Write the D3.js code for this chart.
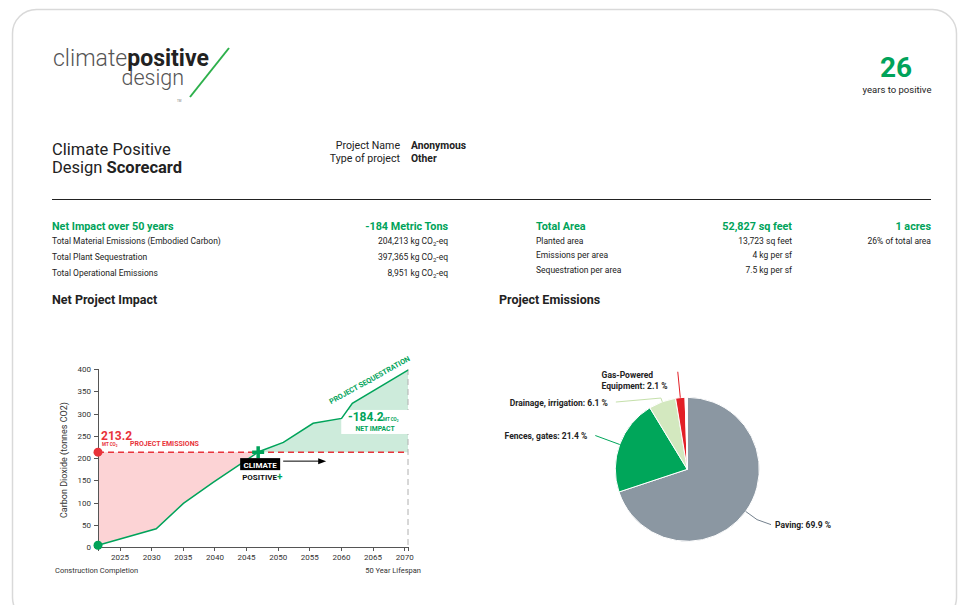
<!DOCTYPE html>
<meta charset="utf-8">
<style>
  body { margin: 0; background: #fff; font-family: Roboto, sans-serif; }
  .axis path, .axis line { fill: none; stroke: #555; shape-rendering: crispEdges; }
  .axis text { font-family: Roboto, sans-serif; font-size: 8px; fill: #333; }
</style>
<div class="card"></div>
<script src="https://cdn.jsdelivr.net/npm/d3@7"></script>
<script>
  var seqYears  = [2021.6, 2030.8, 2035.1, 2039.8, 2047.0, 2050.9, 2055.6, 2060.1, 2061.8, 2070.6];
  var seqTonnes = [4, 41, 98, 145, 214, 235, 278, 289, 323, 397.4];
  var projectEmissions = 213.2;
  var netImpact = -184.2;
  var yTicks = [0, 50, 100, 150, 200, 250, 300, 350, 400];
  var xTicks = [2025, 2030, 2035, 2040, 2045, 2050, 2055, 2060, 2065, 2070];

  var pieNames  = ["Paving", "Fences, gates", "Drainage, irrigation", "Gas-Powered Equipment", ""];
  var pieValues = [69.9, 21.4, 6.1, 2.1, 0.5];
  var pieColors = ["#8b97a2", "#00a65a", "#d3e8bf", "#e31f26", "#ffffff"];

  var leftLabels = ["Total Material Emissions (Embodied Carbon)", "Total Plant Sequestration", "Total Operational Emissions"];
  var leftValues = ["204,213", "397,365", "8,951"];
  var rightLabels = ["Planted area", "Emissions per area", "Sequestration per area"];
  var rightValues = ["13,723 sq feet", "4 kg per sf", "7.5 kg per sf"];

  var green = "#00a35a", red = "#e8333a", dark = "#222";

  var svg = d3.select(".card").append("svg")
      .attr("width", 963).attr("height", 605)
      .style("font-family", "Roboto, sans-serif");

  // card outline
  svg.append("rect").attr("x", 12.5).attr("y", 9.5).attr("width", 944).attr("height", 612)
      .attr("rx", 24).attr("fill", "none").attr("stroke", "#d9d9d9").attr("stroke-width", 1.5);

  // ---- logo ----
  var logo = svg.append("g");
  var l1 = logo.append("text").attr("x", 53).attr("y", 66).attr("font-size", 23);
  l1.append("tspan").attr("font-weight", 300).attr("fill", "#555").text("climate");
  l1.append("tspan").attr("font-weight", 700).attr("fill", "#222").text("positive");
  logo.append("text").attr("x", 184).attr("y", 84.5).attr("text-anchor", "end")
      .attr("font-size", 21.5).attr("font-weight", 300).attr("fill", "#555").text("design");
  logo.append("line").attr("x1", 190).attr("y1", 97).attr("x2", 229).attr("y2", 48)
      .attr("stroke", "#2db04b").attr("stroke-width", 2);
  logo.append("text").attr("x", 177).attr("y", 102).attr("font-size", 3).attr("fill", "#777").text("TM");

  // years to positive
  svg.append("text").attr("x", 896).attr("y", 77).attr("text-anchor", "middle")
      .attr("font-size", 28).attr("font-weight", 700).attr("fill", green).text("26");
  svg.append("text").attr("x", 897).attr("y", 93).attr("text-anchor", "middle")
      .attr("font-size", 9.5).attr("fill", dark).text("years to positive");

  // title block
  svg.append("text").attr("x", 52).attr("y", 155).attr("font-size", 16.5).attr("fill", dark).text("Climate Positive");
  var t2 = svg.append("text").attr("x", 52).attr("y", 173).attr("font-size", 16.5).attr("fill", dark);
  t2.append("tspan").text("Design ");
  t2.append("tspan").attr("font-weight", 700).text("Scorecard");

  svg.append("text").attr("x", 400).attr("y", 148.5).attr("text-anchor", "end").attr("font-size", 10.6).attr("fill", dark).text("Project Name");
  svg.append("text").attr("x", 400).attr("y", 161.5).attr("text-anchor", "end").attr("font-size", 10.6).attr("fill", dark).text("Type of project");
  svg.append("text").attr("x", 411).attr("y", 148.5).attr("font-size", 10.3).attr("font-weight", 700).attr("fill", dark).text("Anonymous");
  svg.append("text").attr("x", 411).attr("y", 161.5).attr("font-size", 10.3).attr("font-weight", 700).attr("fill", dark).text("Other");

  svg.append("line").attr("x1", 52).attr("x2", 931).attr("y1", 199.5).attr("y2", 199.5).attr("stroke", dark);

  // ---- stats ----
  function co2(sel, val) {
    sel.append("tspan").text(val + " kg CO");
    sel.append("tspan").attr("font-size", 6).attr("dy", 2).text("2");
    sel.append("tspan").attr("dy", -2).text("-eq");
  }
  svg.append("text").attr("x", 52).attr("y", 230).attr("font-size", 10.8).attr("font-weight", 700).attr("fill", green).text("Net Impact over 50 years");
  svg.append("text").attr("x", 448).attr("y", 230).attr("text-anchor", "end").attr("font-size", 10.8).attr("font-weight", 700).attr("fill", green)
      .text(Math.round(netImpact) + " Metric Tons");
  leftLabels.forEach(function(lab, i) {
    var yy = 244 + i * 16;
    svg.append("text").attr("x", 52).attr("y", yy).attr("font-size", 8.5).attr("fill", dark).text(lab);
    co2(svg.append("text").attr("x", 448).attr("y", yy).attr("text-anchor", "end").attr("font-size", 8.5).attr("fill", dark), leftValues[i]);
  });

  svg.append("text").attr("x", 536).attr("y", 230).attr("font-size", 10.8).attr("font-weight", 700).attr("fill", green).text("Total Area");
  svg.append("text").attr("x", 792).attr("y", 230).attr("text-anchor", "end").attr("font-size", 10.8).attr("font-weight", 700).attr("fill", green).text("52,827 sq feet");
  svg.append("text").attr("x", 931).attr("y", 230).attr("text-anchor", "end").attr("font-size", 10.8).attr("font-weight", 700).attr("fill", green).text("1 acres");
  rightLabels.forEach(function(lab, i) {
    var yy = 243.5 + i * 14.5;
    svg.append("text").attr("x", 536).attr("y", yy).attr("font-size", 8.5).attr("fill", dark).text(lab);
    svg.append("text").attr("x", 792).attr("y", yy).attr("text-anchor", "end").attr("font-size", 8.5).attr("fill", dark).text(rightValues[i]);
  });
  svg.append("text").attr("x", 931).attr("y", 243.5).attr("text-anchor", "end").attr("font-size", 8.5).attr("fill", dark).text("26% of total area");

  svg.append("text").attr("x", 52).attr("y", 304).attr("font-size", 12.5).attr("font-weight", 700).attr("fill", dark).text("Net Project Impact");
  svg.append("text").attr("x", 499).attr("y", 304).attr("font-size", 12.5).attr("font-weight", 700).attr("fill", dark).text("Project Emissions");

  // ---- net impact chart ----
  var x = d3.scaleLinear().domain([2021.6, 2070.6]).range([98, 408]);
  var y = d3.scaleLinear().domain([0, 400]).range([547, 369]);

  var pts = seqYears.map(function(d, i) { return [d, seqTonnes[i]]; });
  var ci = pts.findIndex(function(d) { return d[1] >= projectEmissions; });
  var tt = (projectEmissions - pts[ci - 1][1]) / (pts[ci][1] - pts[ci - 1][1]);
  var cross = [pts[ci - 1][0] + tt * (pts[ci][0] - pts[ci - 1][0]), projectEmissions];
  var before = pts.slice(0, ci).concat([cross]);
  var after = [cross].concat(pts.slice(ci));

  var area = d3.area().x(function(d) { return x(d[0]); })
      .y0(y(projectEmissions)).y1(function(d) { return y(d[1]); });
  var chart = svg.append("g");
  chart.append("path").attr("d", area(before)).attr("fill", "#fcd3d5");
  chart.append("path").attr("d", area(after)).attr("fill", "#cdebdb");

  // vertical end line
  chart.append("line").attr("x1", x.range()[1]).attr("x2", x.range()[1])
      .attr("y1", y(400)).attr("y2", y(0))
      .attr("stroke", "#b0b0b0").attr("stroke-dasharray", "6,4");

  // net impact box
  var lastPt = pts[pts.length - 1];
  chart.append("rect").attr("x", x(2060.05)).attr("y", y(308)).attr("width", x(lastPt[0]) - x(2060.05) + 1)
      .attr("height", y(254) - y(308)).attr("fill", "#fff");

  chart.append("line").attr("x1", x.range()[0]).attr("x2", x.range()[1])
      .attr("y1", y(projectEmissions)).attr("y2", y(projectEmissions))
      .attr("stroke", red).attr("stroke-width", 1.5).attr("stroke-dasharray", "6,4");

  var line = d3.line().x(function(d) { return x(d[0]); }).y(function(d) { return y(d[1]); });
  chart.append("path").attr("d", line(pts)).attr("fill", "none").attr("stroke", green).attr("stroke-width", 1.5);

  // axes
  chart.append("g").attr("class", "axis").attr("transform", "translate(" + x.range()[0] + ",0)")
      .call(d3.axisLeft(y).tickValues(yTicks).tickSize(4).tickSizeOuter(4));
  chart.append("g").attr("class", "axis").attr("transform", "translate(0," + y(0) + ")")
      .call(d3.axisBottom(x).tickValues(xTicks).tickFormat(d3.format("d")).tickSize(4).tickSizeOuter(4));

  chart.append("text").attr("transform", "translate(66.5," + ((y(0) + y(400)) / 2 + 2) + ") rotate(-90)")
      .attr("text-anchor", "middle").attr("font-size", 9).attr("fill", "#333").text("Carbon Dioxide (tonnes CO2)");

  // dots
  chart.append("circle").attr("cx", x(pts[0][0])).attr("cy", y(pts[0][1])).attr("r", 4.5).attr("fill", green);
  chart.append("circle").attr("cx", x.range()[0]).attr("cy", y(projectEmissions)).attr("r", 4.5).attr("fill", red);

  // emissions label
  var ey = y(projectEmissions);
  chart.append("text").attr("x", 101).attr("y", ey - 12).attr("font-size", 12).attr("font-weight", 700).attr("fill", red).text(projectEmissions.toFixed(1));
  var mt1 = chart.append("text").attr("x", 102).attr("y", ey - 6).attr("font-size", 4.5).attr("font-weight", 700).attr("fill", red);
  mt1.append("tspan").text("MT CO");
  mt1.append("tspan").attr("font-size", 3).attr("dy", 1).text("2");
  chart.append("text").attr("x", 130).attr("y", ey - 6.5).attr("font-size", 7).attr("font-weight", 700).attr("fill", red).text("PROJECT EMISSIONS");

  // net impact label
  chart.append("text").attr("x", 348).attr("y", y(283)).attr("font-size", 12).attr("font-weight", 700).attr("fill", green).text(netImpact.toFixed(1));
  var mt2 = chart.append("text").attr("x", 383).attr("y", y(283)).attr("font-size", 4.5).attr("font-weight", 700).attr("fill", green);
  mt2.append("tspan").text("MT CO");
  mt2.append("tspan").attr("font-size", 3).attr("dy", 1).text("2");
  chart.append("text").attr("x", 375).attr("y", y(261)).attr("text-anchor", "middle").attr("font-size", 6.8).attr("font-weight", 700).attr("fill", green).text("NET IMPACT");

  // sequestration label along line
  chart.append("text").attr("transform", "translate(" + (x(2061.6) - 20) + "," + (y(323) + 1) + ") rotate(-29)")
      .attr("font-size", 7.3).attr("font-weight", 700).attr("fill", green).text("PROJECT SEQUESTRATION");

  // climate positive marker
  var cx = x(cross[0]), cy = y(cross[1]);
  chart.append("path").attr("d", "M" + (cx - 6) + "," + cy + "H" + (cx + 6) + "M" + cx + "," + (cy - 6) + "V" + (cy + 6))
      .attr("stroke", green).attr("stroke-width", 3.5);
  chart.append("rect").attr("x", cx - 18).attr("y", cy + 6).attr("width", 40).attr("height", 12).attr("fill", "#000");
  chart.append("text").attr("x", cx + 2).attr("y", cy + 15.5).attr("text-anchor", "middle")
      .attr("font-size", 8).attr("font-weight", 700).attr("fill", "#fff").text("CLIMATE");
  var pos = chart.append("text").attr("x", cx - 16).attr("y", cy + 28).attr("font-size", 8).attr("font-weight", 700).attr("fill", "#111");
  pos.append("tspan").text("POSITIVE");
  pos.append("tspan").attr("fill", green).attr("font-size", 10).text("+");
  chart.append("line").attr("x1", cx + 25).attr("x2", cx + 62).attr("y1", cy + 9).attr("y2", cy + 9).attr("stroke", "#000");
  chart.append("path").attr("d", "M" + (cx + 68) + "," + (cy + 9) + "l-8,-3v6z").attr("fill", "#000");

  chart.append("text").attr("x", 55).attr("y", 573).attr("font-size", 7.5).attr("fill", "#333").text("Construction Completion");
  chart.append("text").attr("x", 421).attr("y", 573).attr("text-anchor", "end").attr("font-size", 7.5).attr("fill", "#333").text("50 Year Lifespan");

  // ---- pie ----
  var pcx = 687.3, pcy = 469.3, R = 72;
  var pie = d3.pie().sort(null).value(function(d) { return d; });
  var arc = d3.arc().innerRadius(0).outerRadius(R);
  var arcs = pie(pieValues);
  var pg = svg.append("g").attr("transform", "translate(" + pcx + "," + pcy + ")");
  pg.selectAll("path.slice").data(arcs).enter().append("path").attr("class", "slice")
      .attr("d", arc).attr("fill", function(d, i) { return pieColors[i]; })
      .attr("stroke", "#fff").attr("stroke-width", 1);

  // leader layout: radial length, then shift to the label, label side
  var leadLen = [14, 26, 4, 26];
  var leadShift = [[14, 5], [0, 0], [-45, 4], [0, 0]];
  var labelGap = [4, -8, -8, -11];
  var leadColors = ["#74818d", "#00a65a", "#c5e0ab", "#e31f26"];
  arcs.slice(0, 4).forEach(function(a, i) {
    var m = (a.startAngle + a.endAngle) / 2;
    var ux = Math.sin(m), uy = -Math.cos(m);
    var p0 = [ux * R, uy * R];
    var p1 = [ux * (R + leadLen[i]), uy * (R + leadLen[i])];
    var p2 = [p1[0] + leadShift[i][0], p1[1] + leadShift[i][1]];
    pg.append("path").attr("d", "M" + p0 + "L" + p1 + "L" + p2)
        .attr("fill", "none").attr("stroke", leadColors[i]).attr("stroke-width", 1);
    var anchor = labelGap[i] > 0 ? "start" : "end";
    var txt = pieNames[i] + ": " + pieValues[i] + " %";
    if (i === 3) {
      var tg = pg.append("text").attr("y", p2[1] + 6.6)
          .attr("font-size", 8.5).attr("font-weight", 700).attr("fill", dark);
      tg.append("tspan").attr("x", -85.7).text("Gas-Powered");
      tg.append("tspan").attr("x", -85.7).attr("dy", 11).text("Equipment: " + pieValues[i] + " %");
    } else {
      pg.append("text").attr("x", p2[0] + labelGap[i]).attr("y", p2[1] + 3.5)
          .attr("text-anchor", anchor).attr("font-size", 8.5).attr("font-weight", 700).attr("fill", dark).text(txt);
    }
  });
</script>
